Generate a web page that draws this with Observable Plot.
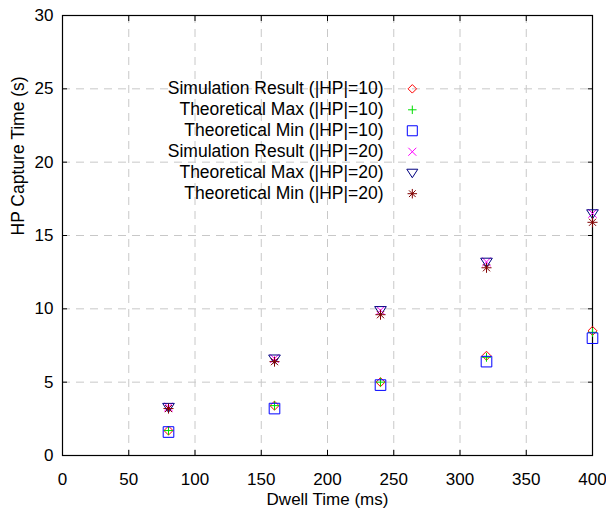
<!DOCTYPE html>
<html>
<head>
<meta charset="utf-8">
<script src="https://cdn.jsdelivr.net/npm/d3@7"></script>
<script src="https://cdn.jsdelivr.net/npm/@observablehq/plot@0.6"></script>
<style>
  html, body { margin: 0; padding: 0; background: #fff; }
  #chart { width: 606px; height: 519px; }
</style>
</head>
<body>
<div id="chart"></div>
<script>
// ---- data ----
const dwellTime = [80, 160, 240, 320, 400];
const sim10 = [1.7, 3.4, 5.0, 6.8, 8.5];
const max10 = [1.7, 3.4, 5.0, 6.7, 8.4];
const min10 = [1.6, 3.2, 4.8, 6.4, 8.0];
const sim20 = [3.3, 6.6, 9.9, 13.2, 16.5];
const max20 = [3.3, 6.6, 9.9, 13.2, 16.5];
const min20 = [3.2, 6.4, 9.6, 12.8, 15.9];
const seriesNames = [
  "Simulation Result (|HP|=10)",
  "Theoretical Max (|HP|=10)",
  "Theoretical Min (|HP|=10)",
  "Simulation Result (|HP|=20)",
  "Theoretical Max (|HP|=20)",
  "Theoretical Min (|HP|=20)"
];
const xTicks = [0, 50, 100, 150, 200, 250, 300, 350, 400];
const yTicks = [0, 5, 10, 15, 20, 25, 30];

// ---- symbols ----
const rOf = size => Math.sqrt(size / Math.PI);
const symDiamond = {draw(c, s) { const r = rOf(s) * 0.85; c.moveTo(0, -r); c.lineTo(r, 0); c.lineTo(0, r); c.lineTo(-r, 0); c.closePath(); }};
const symPlus = {draw(c, s) { const r = rOf(s) * 0.85; c.moveTo(-r, 0); c.lineTo(r, 0); c.moveTo(0, -r); c.lineTo(0, r); }};
const symSquare = {draw(c, s) { const r = rOf(s) * 1.0; c.moveTo(-r, -r); c.lineTo(r, -r); c.lineTo(r, r); c.lineTo(-r, r); c.closePath(); }};
const symTimes = {draw(c, s) { const r = rOf(s) * 0.8; c.moveTo(-r, -r); c.lineTo(r, r); c.moveTo(r, -r); c.lineTo(-r, r); }};
const symTriDown = {draw(c, s) { const r = rOf(s); c.moveTo(-r * 1.1, -r * 0.7); c.lineTo(r * 1.1, -r * 0.7); c.lineTo(0, r * 1.0); c.closePath(); }};
const symStar = {draw(c, s) { const r = rOf(s) * 0.95; const d = r * Math.SQRT1_2;
  c.moveTo(-r, 0); c.lineTo(r, 0); c.moveTo(0, -r); c.lineTo(0, r);
  c.moveTo(-d, -d); c.lineTo(d, d); c.moveTo(d, -d); c.lineTo(-d, d); }};

const seriesVals = [sim10, max10, min10, sim20, max20, min20];
const seriesColors = ["#ff0000", "#00dd00", "#0000ff", "#ff00ff", "#000080", "#800000"];
const seriesSymbols = [symDiamond, symPlus, symSquare, symTimes, symTriDown, symStar];

const pointMarks = seriesVals.map((vals, i) =>
  Plot.dot(dwellTime.map((x, j) => ({x, y: vals[j]})), {
    x: "x", y: "y", r: 5.3, symbol: () => seriesSymbols[i],
    stroke: seriesColors[i], fill: "none", strokeWidth: 1
  })
);

// legend (placed in data units inside the frame)
const legendRows = seriesNames.map((name, i) => ({name, i, y: 25 - i * 1.43}));
const legendMarks = [
  Plot.text(legendRows, {x: 242.3, y: "y", text: "name", textAnchor: "end",
    fontSize: 17.5, fill: "#000"}),
  ...legendRows.map(row => Plot.dot([row], {x: 264, y: "y", r: 5,
    symbol: () => seriesSymbols[row.i], stroke: seriesColors[row.i], fill: "none", strokeWidth: 1}))
];

const chart = Plot.plot({
  width: 606,
  height: 519,
  marginLeft: 62,
  marginRight: 14,
  marginTop: 15,
  marginBottom: 64,
  style: {fontFamily: "'Liberation Sans', Arial, sans-serif", background: "#fff", overflow: "visible"},
  x: {domain: [0, 400]},
  y: {domain: [0, 30]},
  marks: [
    Plot.gridX(xTicks, {stroke: "#c8c8c8", strokeOpacity: 1, strokeDasharray: "8,6"}),
    Plot.gridY(yTicks, {stroke: "#c8c8c8", strokeOpacity: 1, strokeDasharray: "8,6"}),
    Plot.axisX({ticks: xTicks, anchor: "bottom", tickSize: 0, tickPadding: 17, fontSize: 17,
      label: null, color: "#000"}),
    Plot.axisY({ticks: yTicks, anchor: "left", tickSize: 0, tickPadding: 9, fontSize: 17,
      label: null, color: "#000"}),
    Plot.text(["Dwell Time (ms)"], {frameAnchor: "bottom", dy: 44, fontSize: 17, fill: "#000", lineAnchor: "middle"}),
    Plot.text(["HP Capture Time (s)"], {frameAnchor: "left", dx: -44, rotate: -90, fontSize: 17.5, fill: "#000", lineAnchor: "middle"}),
    Plot.axisY({ticks: yTicks, anchor: "left", tickSize: -5, tickFormat: () => "", label: null, stroke: "#000"}),
    Plot.axisY({ticks: yTicks, anchor: "right", tickSize: -5, tickFormat: () => "", label: null, stroke: "#000"}),
    Plot.axisX({ticks: xTicks, anchor: "bottom", tickSize: -5, tickFormat: () => "", label: null, stroke: "#000"}),
    Plot.axisX({ticks: xTicks, anchor: "top", tickSize: -5, tickFormat: () => "", label: null, stroke: "#000"}),
    Plot.frame({stroke: "#000", strokeWidth: 1.2}),
    ...legendMarks,
    ...pointMarks
  ]
});
document.getElementById("chart").appendChild(chart);
</script>
</body>
</html>
